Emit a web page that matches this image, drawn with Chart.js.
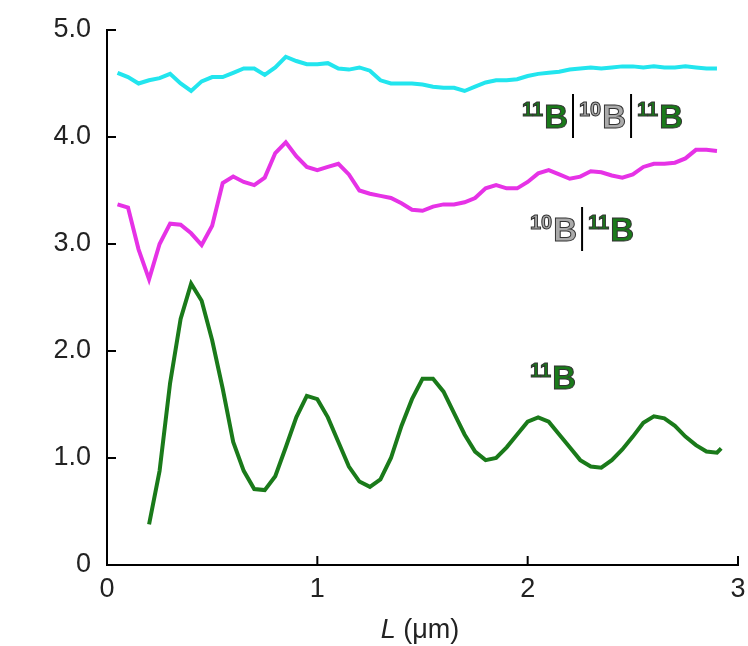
<!DOCTYPE html>
<html>
<head>
<meta charset="utf-8">
<script src="https://cdn.jsdelivr.net/npm/chart.js@4"></script>
<style>
body { margin: 0; background: #fff; }
#wrap { width: 748px; height: 646px; }
</style>
</head>
<body>
<div id="wrap"><canvas id="Chart1"></canvas></div>
<script>
var xTicks = [0, 1, 2, 3];
var yTicks = [0, 1, 2, 3, 4, 5];

var greenX = [0.2,0.25,0.3,0.35,0.4,0.45,0.5,0.55,0.6,0.65,0.7,0.75,0.8,0.85,0.9,0.95,1.0,1.05,1.1,1.15,1.2,1.25,1.3,1.35,1.4,1.45,1.5,1.55,1.6,1.65,1.7,1.75,1.8,1.85,1.9,1.95,2.0,2.05,2.1,2.15,2.2,2.25,2.3,2.35,2.4,2.45,2.5,2.55,2.6,2.65,2.7,2.75,2.8,2.85,2.9,2.92];
var greenY = [0.38,0.88,1.7,2.3,2.63,2.47,2.1,1.65,1.15,0.88,0.71,0.7,0.83,1.1,1.38,1.58,1.55,1.38,1.15,0.92,0.78,0.73,0.8,1.0,1.3,1.55,1.74,1.74,1.62,1.42,1.22,1.06,0.98,1.0,1.1,1.22,1.34,1.38,1.34,1.22,1.1,0.98,0.92,0.91,0.98,1.08,1.2,1.33,1.39,1.37,1.3,1.2,1.12,1.06,1.05,1.09];

var magX = [0.05,0.1,0.15,0.2,0.25,0.3,0.35,0.4,0.45,0.5,0.55,0.6,0.65,0.7,0.75,0.8,0.85,0.9,0.95,1.0,1.05,1.1,1.15,1.2,1.25,1.3,1.35,1.4,1.45,1.5,1.55,1.6,1.65,1.7,1.75,1.8,1.85,1.9,1.95,2.0,2.05,2.1,2.15,2.2,2.25,2.3,2.35,2.4,2.45,2.5,2.55,2.6,2.65,2.7,2.75,2.8,2.85,2.9];
var magY = [3.37,3.34,2.95,2.67,3.0,3.19,3.18,3.1,2.99,3.17,3.57,3.63,3.58,3.55,3.62,3.85,3.95,3.82,3.72,3.69,3.72,3.75,3.65,3.5,3.47,3.45,3.43,3.38,3.32,3.31,3.35,3.37,3.37,3.39,3.43,3.52,3.55,3.52,3.52,3.58,3.66,3.69,3.65,3.61,3.63,3.68,3.67,3.64,3.62,3.65,3.72,3.75,3.75,3.76,3.8,3.88,3.88,3.87];

var cyanX = magX;
var cyanY = [4.6,4.56,4.5,4.53,4.55,4.59,4.5,4.43,4.52,4.56,4.56,4.6,4.64,4.64,4.58,4.65,4.75,4.71,4.68,4.68,4.69,4.64,4.63,4.65,4.62,4.53,4.5,4.5,4.5,4.49,4.47,4.46,4.46,4.43,4.47,4.51,4.53,4.53,4.54,4.57,4.59,4.6,4.61,4.63,4.64,4.65,4.64,4.65,4.66,4.66,4.65,4.66,4.65,4.65,4.66,4.65,4.64,4.64];

function pts(xs, ys) {
    return xs.map(function (x, i) { return {x: x, y: ys[i]}; });
}

var GREEN = '#1a7a1a', GREY = '#aaaaaa';

// label pieces: [text, color, sup] ; '|' = vertical bar
function drawLabel(ctx, x, y, parts) {
    parts.forEach(function (p) {
        if (p === '|') {
            ctx.beginPath();
            ctx.strokeStyle = '#000';
            ctx.lineWidth = 2;
            ctx.moveTo(x + 5, y - 34);
            ctx.lineTo(x + 5, y + 10);
            ctx.stroke();
            x += 11;
            return;
        }
        var sup = p[2];
        ctx.font = 'bold ' + (sup ? 20 : 33) + 'px "Liberation Sans", Arial';
        ctx.fillStyle = p[1];
        ctx.lineWidth = 1;
        ctx.strokeStyle = '#333';
        var yy = sup ? y - 12 : y;
        ctx.fillText(p[0], x, yy);
        ctx.strokeText(p[0], x, yy);
        x += ctx.measureText(p[0]).width + (sup ? 1 : 0);
    });
}

var decor = {
    id: 'decor',
    afterDraw: function (chart) {
        var ctx = chart.ctx, xs = chart.scales.x, ys = chart.scales.y;
        ctx.save();
        ctx.strokeStyle = '#000';
        ctx.lineWidth = 2;
        xTicks.slice(1).forEach(function (t) {
            var px = xs.getPixelForValue(t);
            ctx.beginPath(); ctx.moveTo(px, ys.bottom); ctx.lineTo(px, ys.bottom - 9); ctx.stroke();
        });
        yTicks.slice(1).forEach(function (t) {
            var py = ys.getPixelForValue(t);
            ctx.beginPath(); ctx.moveTo(xs.left, py); ctx.lineTo(xs.left + 9, py); ctx.stroke();
        });
        ctx.textBaseline = 'alphabetic';
        drawLabel(ctx, 522, 128, [['11', GREEN, 1], ['B', GREEN], '|', ['10', GREY, 1], ['B', GREY], '|', ['11', GREEN, 1], ['B', GREEN]]);
        drawLabel(ctx, 530, 241, [['10', GREY, 1], ['B', GREY], '|', ['11', GREEN, 1], ['B', GREEN]]);
        drawLabel(ctx, 530, 389, [['11', GREEN, 1], ['B', GREEN]]);
        // axis title
        ctx.fillStyle = '#222';
        ctx.font = 'italic 27px "Liberation Sans", Arial';
        var w1 = ctx.measureText('L').width;
        ctx.font = '27px "Liberation Sans", Arial';
        var w2 = ctx.measureText(' (μm)').width;
        var sx = 420 - (w1 + w2) / 2;
        ctx.font = 'italic 27px "Liberation Sans", Arial';
        ctx.fillText('L', sx, 638);
        ctx.font = '27px "Liberation Sans", Arial';
        ctx.fillText(' (μm)', sx + w1, 638);
        ctx.restore();
    }
};

var tickFont = {family: '"Liberation Sans", Arial', size: 27};
new Chart(document.getElementById('Chart1'), {
    type: 'line',
    data: {
        datasets: [{
            data: pts(cyanX, cyanY), borderColor: '#22e5ee', borderWidth: 4
        }, {
            data: pts(magX, magY), borderColor: '#e632e6', borderWidth: 4
        }, {
            data: pts(greenX, greenY), borderColor: GREEN, borderWidth: 4
        }]
    },
    options: {
        responsive: true,
        maintainAspectRatio: false,
        animation: false,
        layout: {padding: {top: 30, right: 10, left: 0, bottom: 0}},
        elements: {point: {radius: 0}, line: {tension: 0}},
        plugins: {legend: {display: false}, tooltip: {enabled: false}},
        scales: {
            x: {
                type: 'linear', min: 0, max: 3,
                afterBuildTicks: function (s) { s.ticks = xTicks.map(function (v) { return {value: v}; }); },
                afterFit: function (s) { s.height = 81; },
                grid: {display: false},
                border: {color: '#000', width: 2},
                ticks: {color: '#222', font: tickFont, padding: 0, maxRotation: 0}
            },
            y: {
                type: 'linear', min: 0, max: 5,
                afterBuildTicks: function (s) { s.ticks = yTicks.map(function (v) { return {value: v}; }); },
                afterFit: function (s) { s.width = 107; },
                grid: {display: false},
                border: {color: '#000', width: 2},
                ticks: {
                    color: '#222', font: tickFont, padding: 8,
                    callback: function (v) { return v === 0 ? '0' : v.toFixed(1); }
                }
            }
        }
    },
    plugins: [decor]
});
</script>
</body>
</html>
